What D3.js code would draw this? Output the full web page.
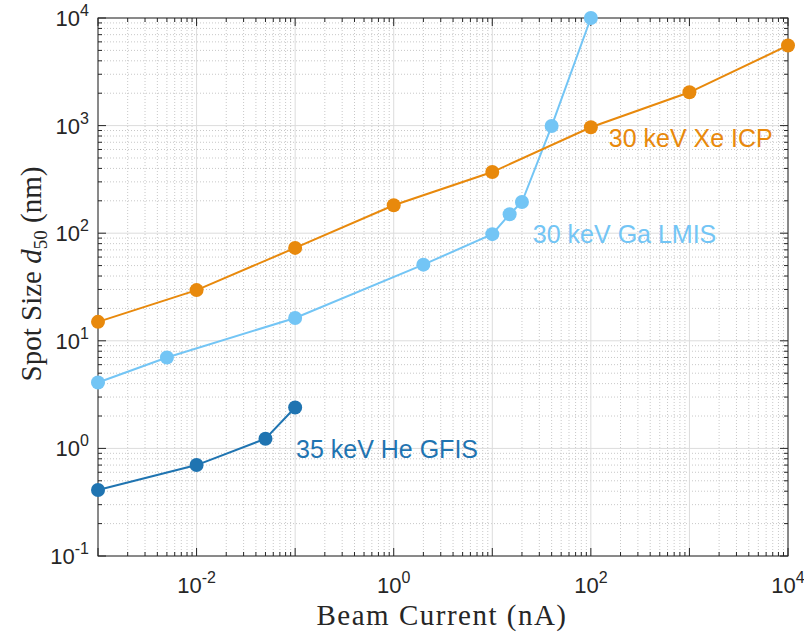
<!DOCTYPE html>
<html>
<head>
<meta charset="utf-8">
<script src="https://cdn.jsdelivr.net/npm/d3@7"></script>
<style>
  body { margin: 0; background: #fff; }
  .tick-label { font-family: "Liberation Sans", Arial, sans-serif; font-size: 22px; fill: #262626; }
  .axis-title { font-family: "Liberation Serif", "DejaVu Serif", serif; font-size: 29px; fill: #262626; }
  .series-label { font-family: "Liberation Sans", Arial, sans-serif; font-size: 25px; }
</style>
</head>
<body>
<svg id="chart"></svg>
<script>
// data (current in nA, spot size in nm)
const heCurrent = [0.001, 0.01, 0.05, 0.1];
const heSpot = [0.41, 0.7, 1.23, 2.4];

const gaCurrent = [0.001, 0.005, 0.1, 2, 10, 15, 20, 40, 100];
const gaSpot = [4.1, 7, 16.3, 51, 98, 150, 195, 990, 10000];

const xeCurrent = [0.001, 0.01, 0.1, 1, 10, 100, 1000, 10000];
const xeSpot = [15, 29.6, 73, 182, 370, 965, 2040, 5560];

const xTickExps = [-2, 0, 2, 4];
const yTickExps = [-1, 0, 1, 2, 3, 4];

// label anchors are in data units
const seriesInfo = [
  { name: "35 keV He GFIS", x: heCurrent, y: heSpot, color: "#1f74b1", lx: 0.102, ly: 0.82 },
  { name: "30 keV Ga LMIS", x: gaCurrent, y: gaSpot, color: "#73c5f5", lx: 25.8, ly: 81 },
  { name: "30 keV Xe ICP", x: xeCurrent, y: xeSpot, color: "#e8890c", lx: 152, ly: 630 }
];

const width = 804, height = 633;
const margin = { top: 18, right: 16, bottom: 77, left: 98 };
const innerW = width - margin.left - margin.right;
const innerH = height - margin.top - margin.bottom;

const svg = d3.select("#chart")
  .attr("width", width)
  .attr("height", height);

const g = svg.append("g")
  .attr("transform", `translate(${margin.left},${margin.top})`);

const xScale = d3.scaleLog().domain([1e-3, 1e4]).range([0, innerW]);
const yScale = d3.scaleLog().domain([1e-1, 1e4]).range([innerH, 0]);

// grid values
const minorX = [], majorX = [];
for (let e = -3; e <= 4; e++) {
  majorX.push(Math.pow(10, e));
  if (e < 4) for (let k = 2; k <= 9; k++) minorX.push(k * Math.pow(10, e));
}
const minorY = [], majorY = [];
for (let e = -1; e <= 4; e++) {
  majorY.push(Math.pow(10, e));
  if (e < 4) for (let k = 2; k <= 9; k++) minorY.push(k * Math.pow(10, e));
}

const grid = g.append("g");
grid.selectAll(".minx").data(minorX).enter().append("line")
  .attr("x1", d => xScale(d)).attr("x2", d => xScale(d))
  .attr("y1", 0).attr("y2", innerH)
  .attr("stroke", "#c8c8c8").attr("stroke-width", 1).attr("stroke-dasharray", "1,2");
grid.selectAll(".miny").data(minorY).enter().append("line")
  .attr("y1", d => yScale(d)).attr("y2", d => yScale(d))
  .attr("x1", 0).attr("x2", innerW)
  .attr("stroke", "#c8c8c8").attr("stroke-width", 1).attr("stroke-dasharray", "1,2");
grid.selectAll(".majx").data(majorX).enter().append("line")
  .attr("x1", d => xScale(d)).attr("x2", d => xScale(d))
  .attr("y1", 0).attr("y2", innerH)
  .attr("stroke", "#dcdcdc").attr("stroke-width", 1);
grid.selectAll(".majy").data(majorY).enter().append("line")
  .attr("y1", d => yScale(d)).attr("y2", d => yScale(d))
  .attr("x1", 0).attr("x2", innerW)
  .attr("stroke", "#dcdcdc").attr("stroke-width", 1);

// tick marks on all four sides (inward)
const ticks = g.append("g").attr("stroke", "#262626").attr("stroke-width", 1);
function tickLen(d) {
  const m = d / Math.pow(10, Math.floor(Math.log10(d) + 1e-9));
  return Math.abs(m - 1) < 1e-6 ? 8 : 4;
}
minorX.concat(majorX).forEach(d => {
  const x = xScale(d), L = tickLen(d);
  ticks.append("line").attr("x1", x).attr("x2", x).attr("y1", innerH).attr("y2", innerH - L);
  ticks.append("line").attr("x1", x).attr("x2", x).attr("y1", 0).attr("y2", L);
});
minorY.concat(majorY).forEach(d => {
  const y = yScale(d), L = tickLen(d);
  ticks.append("line").attr("y1", y).attr("y2", y).attr("x1", 0).attr("x2", L);
  ticks.append("line").attr("y1", y).attr("y2", y).attr("x1", innerW).attr("x2", innerW - L);
});

g.append("rect")
  .attr("width", innerW).attr("height", innerH)
  .attr("fill", "none").attr("stroke", "#262626").attr("stroke-width", 1);

// tick labels, 10 with superscript exponent
function powLabel(sel, e) {
  sel.append("tspan").text("10");
  sel.append("tspan").attr("dy", -10).attr("font-size", 16).text(e);
}
xTickExps.forEach(e => {
  const t = g.append("text").attr("class", "tick-label")
    .attr("x", xScale(Math.pow(10, e))).attr("y", innerH + 37)
    .attr("text-anchor", "middle");
  powLabel(t, e);
});
yTickExps.forEach(e => {
  const t = g.append("text").attr("class", "tick-label")
    .attr("x", -9).attr("y", yScale(Math.pow(10, e)) + 8)
    .attr("text-anchor", "end");
  powLabel(t, e);
});

// series
const line = d3.line().x(d => xScale(d[0])).y(d => yScale(d[1]));
seriesInfo.forEach(s => {
  const pts = s.x.map((v, i) => [v, s.y[i]]);
  g.append("path").datum(pts)
    .attr("d", line).attr("fill", "none")
    .attr("stroke", s.color).attr("stroke-width", 2);
  g.selectAll(null).data(pts).enter().append("circle")
    .attr("cx", d => xScale(d[0])).attr("cy", d => yScale(d[1]))
    .attr("r", 7).attr("fill", s.color);
  g.append("text").attr("class", "series-label")
    .attr("x", xScale(s.lx)).attr("y", yScale(s.ly))
    .attr("fill", s.color).text(s.name);
});

// axis titles
svg.append("text").attr("class", "axis-title")
  .attr("x", 442).attr("y", 625)
  .attr("text-anchor", "middle")
  .attr("letter-spacing", 1.5)
  .text("Beam Current (nA)");

const yt = svg.append("text").attr("class", "axis-title")
  .attr("transform", `translate(41,274) rotate(-90)`)
  .attr("text-anchor", "middle");
yt.append("tspan").text("Spot Size ");
yt.append("tspan").attr("font-style", "italic").text("d");
yt.append("tspan").attr("font-size", 19).attr("dy", 6).text("50");
yt.append("tspan").attr("dy", -6).text(" (nm)");
</script>
</body>
</html>
